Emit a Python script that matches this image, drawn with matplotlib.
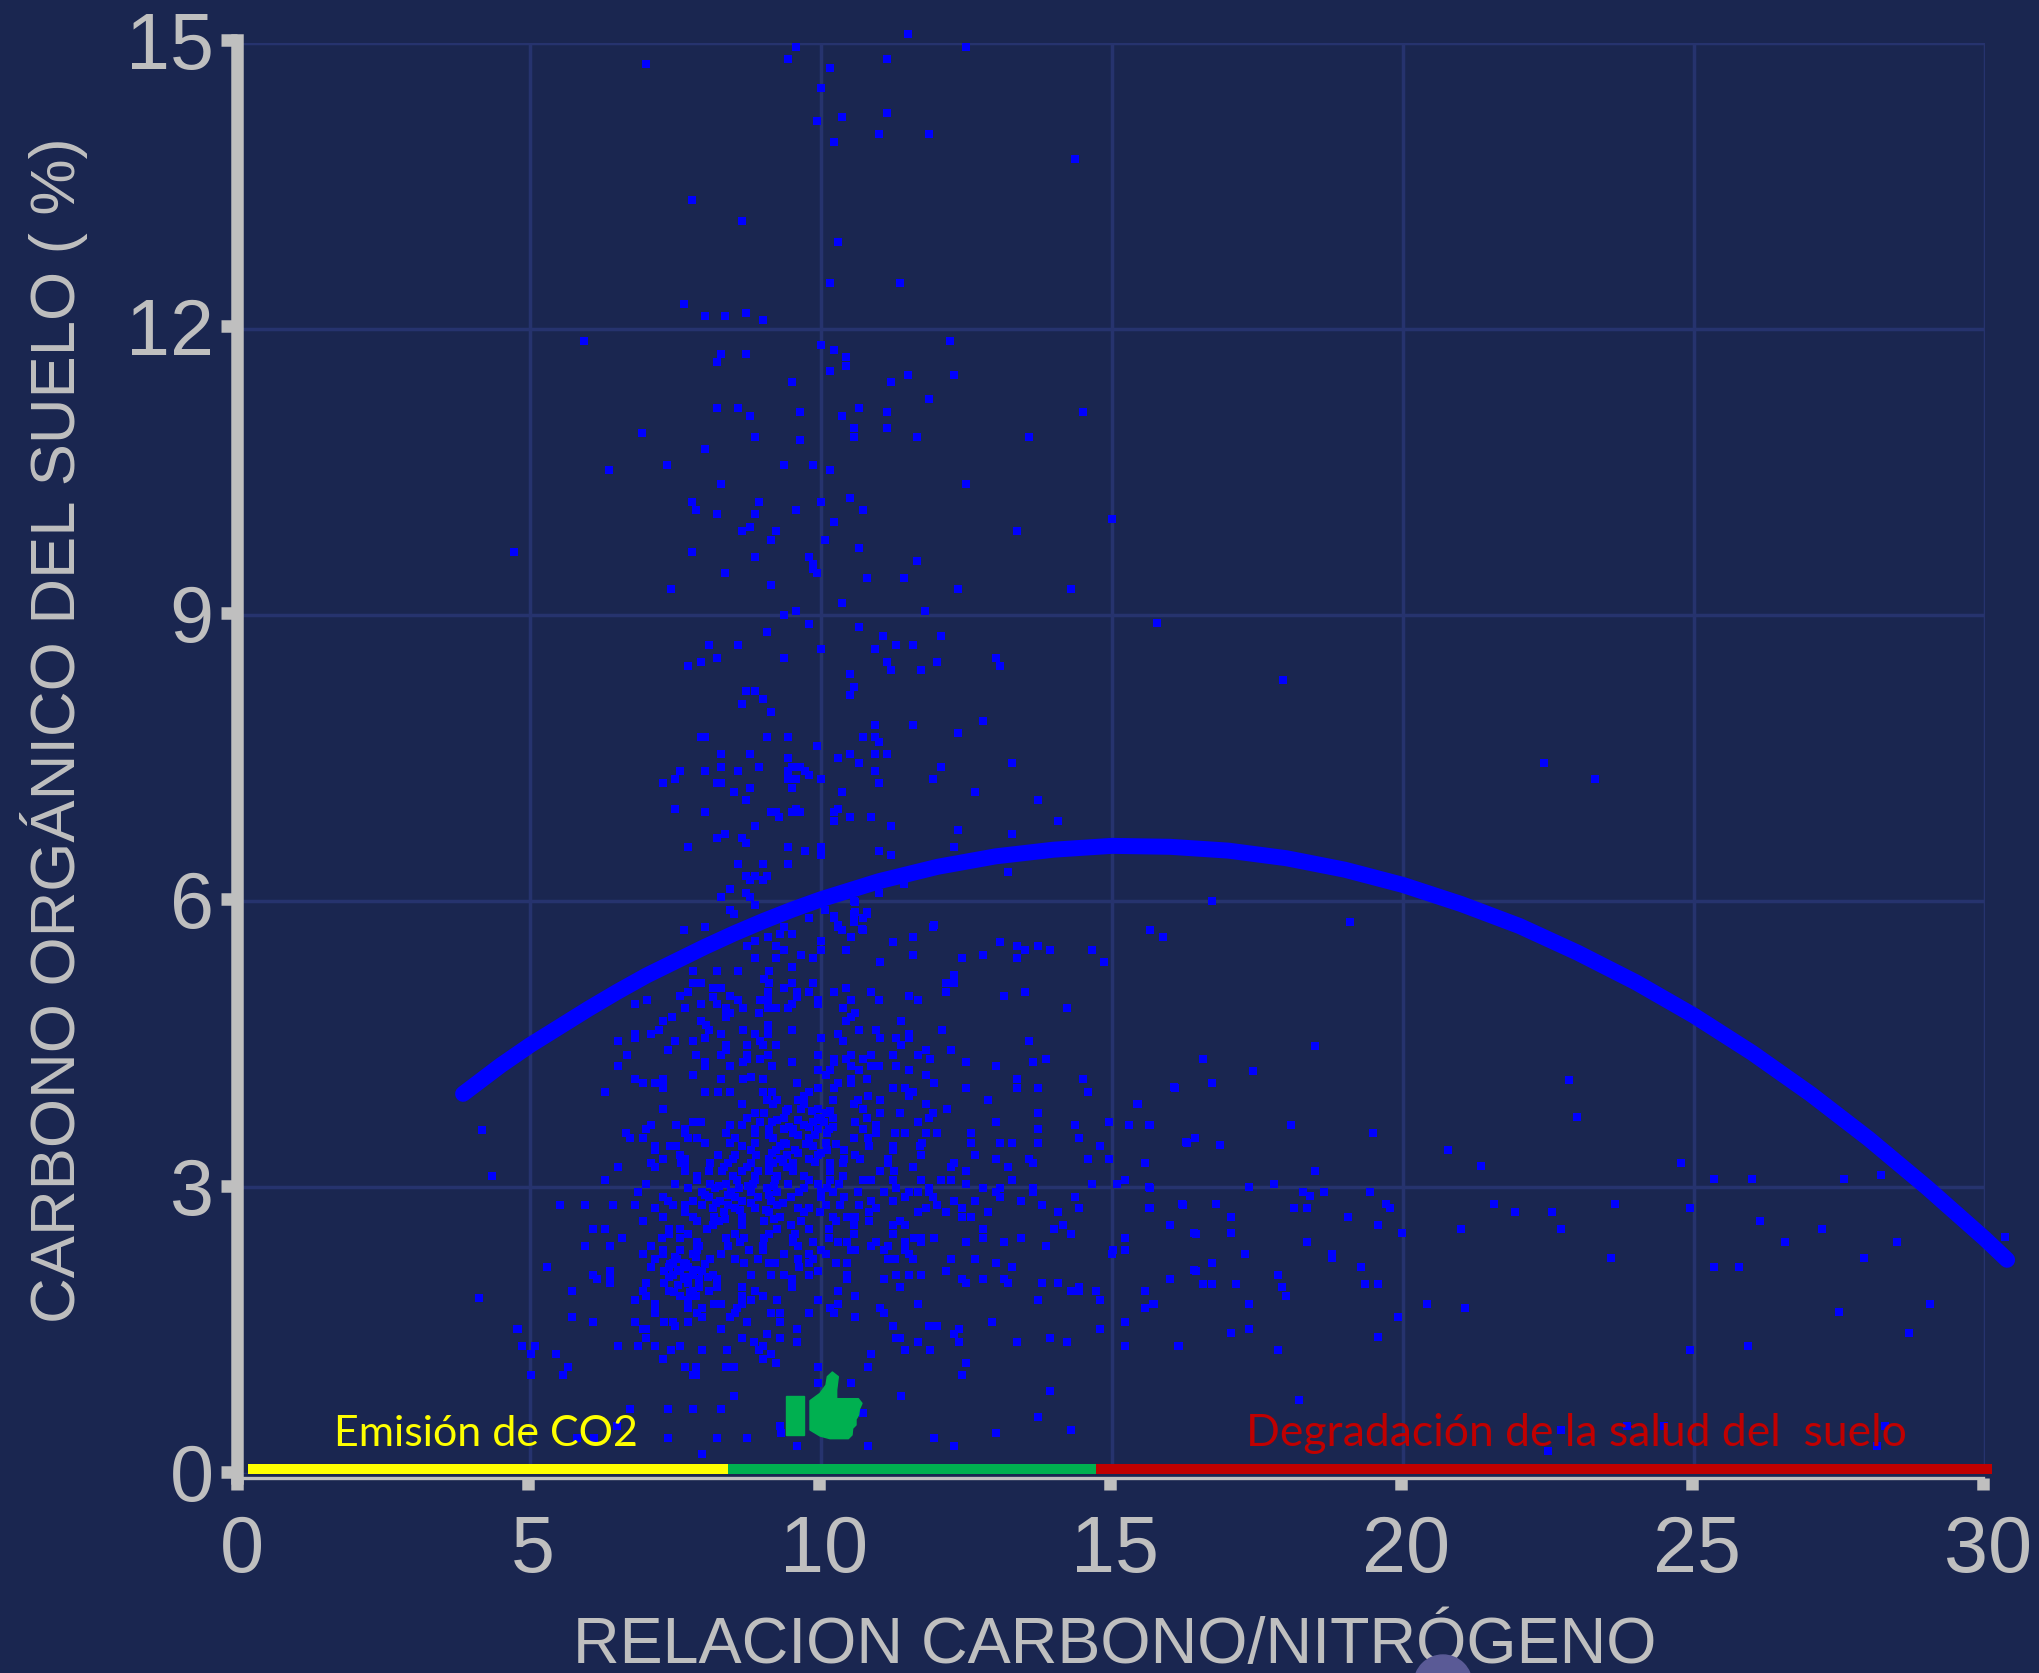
"""
Carbono organico del suelo vs relacion C/N, scatter with fitted curve
"""
import numpy as np
import matplotlib
matplotlib.use("Agg")
import matplotlib.pyplot as plt
from matplotlib.patches import Polygon, Rectangle, Ellipse
from matplotlib.transforms import ScaledTranslation

W, H = 2040, 1673

# -------------------------------
# DATA
# -------------------------------
x_ticks = [0, 5, 10, 15, 20, 25, 30]
y_ticks = [0, 3, 6, 9, 12, 15]

# top of the cloud, (C/N, carbono)
puntos_altos = [
    (11.5,15.09),(9.57,14.96),(12.5,14.96),(9.43,14.83),(7.0,14.78),(11.14,14.83),(10.15,14.74),(10.0,14.52),
    (11.14,14.26),(10.36,14.22),(9.93,14.18),(11.0,14.04),(11.86,14.04),(10.22,13.96),(14.36,13.78),(7.78,13.35),
    (8.64,13.13),(10.29,12.91),(10.15,12.48),(11.36,12.48),(7.64,12.26),(8.0,12.13),(8.35,12.13),(8.71,12.17),
    (9.0,12.09),(5.93,11.87),(10.0,11.83),(10.22,11.78),(12.22,11.87),(8.28,11.74),(8.71,11.74),(8.21,11.65),
    (10.43,11.7),(10.43,11.61),(10.15,11.56),(11.5,11.52),(12.29,11.52),(9.5,11.44),(11.21,11.44),(11.86,11.26),
    (8.21,11.17),(8.57,11.17),(8.78,11.09),(9.64,11.13),(10.65,11.17),(11.14,11.13),(10.36,11.09),(14.5,11.13),
    (10.57,10.96),(11.14,10.96),(6.93,10.91),(8.86,10.87),(10.57,10.87),(11.65,10.87),(13.58,10.87),(9.64,10.83),
    (8.0,10.74),(7.35,10.57),(6.35,10.52),(9.36,10.57),(9.86,10.57),(10.15,10.52),
    (8.28,10.37),(12.5,10.37),(7.78,10.19),(8.93,10.19),(10.0,10.19),(10.5,10.23),(7.86,10.1),(8.21,10.06),
    (8.86,10.06),(9.57,10.1),(10.72,10.1),(10.22,9.97),(15.0,10.01),(8.78,9.92),(8.64,9.88),(9.22,9.88),
    (13.36,9.88),(9.14,9.79),(10.07,9.79),(4.72,9.66),(7.78,9.66),(10.65,9.7),(8.86,9.61),(9.79,9.61),
    (9.86,9.53),(9.86,9.48),(9.93,9.44),(11.65,9.57),(8.35,9.44),(10.79,9.39),(11.43,9.39),(9.14,9.31),
    (7.43,9.27),(12.36,9.27),(14.29,9.27),(10.36,9.13),(9.57,9.04),(9.36,9.0),(11.79,9.04),(15.78,8.92),
    (9.79,8.91),(10.65,8.87),(9.07,8.82),(11.07,8.78),(12.07,8.78),(8.07,8.69),(8.57,8.69),(11.29,8.69),
    (11.58,8.69),(10.0,8.64),(10.93,8.64),(8.21,8.55),(9.36,8.55),(13.0,8.55),(7.93,8.51),(11.14,8.51),
    (12.0,8.51),(7.71,8.47),(13.07,8.47),(11.21,8.42),(11.72,8.42),(10.5,8.38),(17.93,8.32),(10.57,8.25),
    (8.71,8.2),(8.86,8.2),(9.0,8.12),(10.5,8.16),(8.64,8.07),(9.14,7.98),(12.79,7.89),(10.93,7.85),
    (11.58,7.85),(12.36,7.76),(7.93,7.72),(8.0,7.72),(9.07,7.72),(9.43,7.72),(10.72,7.72),(10.93,7.72),
    (11.0,7.67),(9.93,7.63),(8.28,7.54),(8.78,7.54),(10.5,7.54),(10.93,7.54),(11.14,7.54),(9.43,7.5),
    (10.29,7.5),(10.65,7.45),(13.29,7.45),(22.42,7.45),(8.28,7.41),(8.93,7.41),(9.5,7.41),(9.64,7.41),
    (12.07,7.41),(7.57,7.37),(8.0,7.37),(8.57,7.37),(9.43,7.37),(9.72,7.37),(10.93,7.37),(9.79,7.32),
    (7.5,7.28),(9.43,7.28),(9.57,7.28),(10.0,7.28),(11.93,7.28),(23.3,7.28),(7.29,7.24),(8.21,7.24),
    (8.28,7.24),(11.0,7.24),(8.78,7.19),(9.5,7.19),(8.5,7.14),(10.36,7.14),(12.65,7.14),(8.71,7.06),
    (13.72,7.06),(7.5,6.97),(10.29,6.97),(9.57,6.97),(8.0,6.93),(9.14,6.93),(9.22,6.93),(9.5,6.93),
    (9.64,6.93),(10.22,6.93),(9.28,6.88),(10.5,6.88),(10.86,6.88),(10.22,6.84),(14.07,6.84),(8.86,6.79),
    (11.21,6.79),(12.36,6.75),(8.35,6.7),(13.29,6.7),(8.21,6.66),(8.64,6.66),(8.71,6.61),(7.71,6.57),
    (9.43,6.57),(10.0,6.57),(12.29,6.57),(9.72,6.53),(11.0,6.53),(10.0,6.48),(11.21,6.48),(8.57,6.39),
    (9.0,6.39),(9.43,6.39),(8.71,6.26),(8.86,6.26),(9.07,6.26),(8.78,6.22),(9.0,6.22),(13.22,6.31),
    (8.43,6.13),(8.71,6.09),(11.0,6.09),(11.43,6.18),(8.28,6.04),(8.78,6.04),(10.57,6.0),(16.72,6.0),
    (8.86,5.96),(8.43,5.91),(10.07,5.91),(8.5,5.87),(10.57,5.87),(10.79,5.87),(10.22,5.82),(9.79,5.82),
    (10.72,5.82),(10.57,5.78),(19.09,5.78),(10.29,5.73),(11.93,5.73),(7.64,5.7),(8.0,5.73),(9.36,5.73),
    (10.36,5.7),(10.72,5.7),
]

# under the curve, 5.99 down to 4
puntos_medios = [
    (10.58,5.99),(11.94,5.75),(15.66,5.7),(15.87,5.62),(11.23,5.57),(11.58,5.62),(13.08,5.57),(13.37,5.53),
    (13.51,5.49),(13.72,5.53),(13.94,5.49),(14.65,5.49),(13.37,5.4),(14.86,5.36),(12.79,5.44),(12.43,5.4),
    (11.58,5.44),(11.01,5.36),(10.79,5.89),(10.58,5.89),(10.71,5.71),(10.52,5.62),(10.23,5.84),(10.29,5.75),
    (10.36,5.7),(10.0,5.58),(10.0,5.49),(10.43,5.49),(9.65,5.44),(9.23,5.4),(9.87,5.4),(8.86,5.4),
    (9.51,5.31),(9.09,5.62),(9.3,5.66),(9.51,5.66),(9.23,5.53),(9.37,5.49),(8.86,5.58),(8.72,5.53),
    (7.8,5.27),(8.22,5.27),(8.58,5.27),(9.1,5.27),(9.02,5.18),(9.1,5.14),(9.51,5.14),(9.87,5.14),
    (7.8,5.14),(7.93,5.14),(8.15,5.09),(8.29,5.09),(9.37,5.09),(7.72,5.05),(9.09,5.05),(9.58,5.05),
    (9.79,5.05),(10.23,5.05),(10.43,5.09),(10.86,5.05),(7.57,5.01),(8.15,5.0),(8.44,5.01),(9.09,4.96),
    (9.58,5.0),(10.51,4.96),(11.0,4.96),(11.51,5.01),(11.66,4.96),(9.94,4.96),(9.94,4.92),(8.58,4.96),
    (8.95,4.96),(6.8,4.92),(7.01,4.96),(7.94,4.92),(8.22,4.92),(12.15,5.14),(12.29,5.23),(12.29,5.14),
    (12.15,5.05),(13.15,5.01),(13.51,5.05),(14.23,4.88),(8.37,4.88),(7.66,4.88),(8.66,4.88),(9.09,4.88),
    (9.23,4.88),(9.44,4.88),(9.51,4.92),(10.37,4.88),(8.37,4.83),(8.44,4.83),(8.93,4.83),(10.58,4.83),
    (8.37,4.79),(7.44,4.79),(10.52,4.79),(7.29,4.74),(7.93,4.74),(10.43,4.74),(11.37,4.74),(9.09,4.7),
    (8.02,4.7),(7.22,4.65),(8.08,4.65),(8.66,4.65),(9.09,4.65),(9.51,4.65),(10.66,4.65),(10.94,4.65),
    (12.08,4.65),(6.8,4.61),(7.08,4.61),(8.29,4.61),(8.87,4.61),(9.09,4.61),(10.3,4.61),(11.51,4.61),
    (6.8,4.57),(8.01,4.57),(10.0,4.57),(11.01,4.57),(11.29,4.57),(11.51,4.57),(6.51,4.53),(7.5,4.53),
    (7.8,4.53),(8.95,4.53),(10.37,4.53),(11.37,4.49),(13.58,4.53),(8.37,4.49),(8.72,4.49),(9.23,4.49),
    (9.01,4.49),(7.37,4.44),(8.37,4.44),(11.8,4.44),(12.23,4.44),(6.66,4.39),(7.86,4.39),(8.29,4.39),
    (8.72,4.39),(9.09,4.39),(9.94,4.39),(10.51,4.39),(10.86,4.39),(11.23,4.39),(11.66,4.39),(8.72,4.35),
    (8.95,4.35),(10.23,4.35),(10.43,4.35),(10.72,4.35),(11.87,4.35),(13.87,4.35),(8.66,4.31),(8.0,4.31),
    (9.51,4.31),(10.23,4.31),(12.5,4.31),(13.65,4.31),(6.51,4.27),(8.01,4.27),(8.44,4.27),(9.15,4.27),
    (10.51,4.27),(10.86,4.27),(11.0,4.27),(11.29,4.27),(13.0,4.27),(9.94,4.23),(10.15,4.23),(10.66,4.23),
    (11.51,4.23),(7.8,4.18),(10.08,4.18),(11.8,4.18),(6.8,4.14),(7.29,4.14),(8.29,4.14),(8.66,4.14),
    (8.8,4.16),(9.01,4.14),(10.51,4.14),(10.79,4.14),(13.37,4.14),(14.51,4.14),(6.94,4.09),(7.15,4.09),
    (7.29,4.09),(9.58,4.09),(10.3,4.09),(10.51,4.09),(11.94,4.09),(13.37,4.04),(7.29,4.04),(11.23,4.04),
    (11.44,4.04),(9.94,4.04),(12.5,4.04),(13.72,4.04),(16.08,4.04),(6.29,4.0),(8.01,4.0),(8.23,4.0),
    (8.44,4.0),(9.01,4.0),(9.15,4.0),(9.79,4.0),(10.23,4.04),(11.58,4.0),(14.58,4.0),
]

# dense part, one carbono value with the C/N values read along it
filas_densas = [
    (3.96,[9.71,10.8,11.51]),
    (3.92,[9.08,9.6,10.21,10.63,11.02,12.87,9.25]),
    (3.87,[8.65,9.18,9.7,10.56,11.8,15.44]),
    (3.82,[7.29,9.44,9.65,9.94,10.72,12.17]),
    (3.78,[8.87,9.02,10.08,11.01,11.36,11.93,13.72]),
    (3.73,[8.72,9.36,9.94,10.2,10.79,11.86]),
    (3.69,[7.8,7.93,8.95,9.15,9.87,10.06,10.58,11.66,13.0,14.94]),
    (3.65,[7.08,7.51,8.44,8.64,9.71,10.94,14.37,15.29,15.66]),
    (3.61,[7.0,7.66,8.87,9.1,9.37,9.52,9.94,10.14,10.72,13.72]),
    (3.57,[6.65,7.66,8.37,8.87,9.52,10.1,10.94,11.28,11.44,11.8,12.0,12.58]),
    (3.52,[6.72,6.94,7.72,7.87,8.53,9.18,9.79,10.57,10.8,14.44]),
    (3.47,[8.01,8.43,8.87,9.37,10.08,11.73,12.58,13.08,13.29,13.72,16.29]),
    (3.43,[7.15,7.41,7.51,8.65,9.29,9.87,10.83,11.23,11.7,14.8]),
    (3.39,[7.15,8.79,9.23,9.56,10.1,10.39,11.23]),
    (3.34,[7.58,8.23,8.53,8.88,9.41,9.95,10.58,11.72,12.65]),
    (3.3,[7.29,7.66,8.49,9.1,9.29,9.79,10.4,10.67,11.15,13.0,13.58,14.58,14.94]),
    (3.25,[7.08,7.6,8.1,8.41,8.79,9.17,9.52,10.15,10.37,11.15,12.29,13.65,15.57]),
    (3.21,[6.51,7.15,7.66,8.33,8.72,9.1,9.41,11.58,12.23,13.22]),
    (3.17,[7.66,8.07,8.3,8.65,8.91,9.1,9.52,10.15,11.02,11.26,12.5]),
    (3.12,[7.87,8.49,8.87,9.25,9.71,10.37]),
    (3.08,[6.29,7.87,8.56,8.87,9.21,9.79,10.15,10.72,10.86,11.23,11.72,12.07,12.23,13.29,15.23]),
    (3.03,[7.0,7.5,8.1,8.37,8.83,9.44,9.94,10.31,12.5,14.65,15.08]),
    (2.99,[7.72,8.18,8.59,9.08,9.71,10.1,11.29,11.86,12.79,13.08,13.65,15.66]),
    (2.95,[6.86,7.95,8.45,8.79,9.25,9.63,10.0,10.2,10.63,11.09,11.51,11.66,11.86,13.0,13.65]),
    (2.9,[7.29,8.07,8.53,8.91,9.48,10.0,10.39,11.44,11.93,13.08,14.37]),
    (2.86,[7.37,7.8,8.26,8.65,9.14,10.86,11.23,12.29,12.65,13.44]),
    (2.82,[5.51,5.94,6.43,6.8,7.45,7.66,7.95,8.41,9.25,10.08,10.33,10.66,12.0,13.8,16.22]),
    (2.78,[7.15,7.66,8.14,8.53,8.87,9.6,9.79,10.94,11.8,12.43,14.43,15.66]),
    (2.74,[7.66,8.33,9.1,9.71,9.98,10.83,11.66,12.15,12.87,14.08]),
    (2.69,[7.29,7.8,8.16,8.65,9.29,10.21,10.44,10.58,12.43,12.58]),
    (2.65,[6.94,7.87,8.25,9.02,9.65,10.25,10.83,11.36]),
    (2.6,[8.14,8.65,9.48,10.56,11.23,11.44,14.16,16.0]),
    (2.56,[6.09,6.29,7.38,7.57,8.04,9.25,9.79,10.14,12.79,14.0]),
    (2.51,[7.38,7.72,8.53,9.1,9.56,10.56,11.23,14.3,16.44]),
    (2.47,[6.58,7.26,7.57,8.37,8.68,9.02,9.52,10.14,11.59,11.72,11.94,12.79,13.44,15.23]),
    (2.43,[7.87,8.6,9.52,9.87,10.29,10.44,10.94,11.44,11.72,12.5,13.15]),
    (2.39,[5.94,6.37,7.08,7.9,8.41,9.01,9.6,10.86,11.15,13.87]),
    (2.34,[7.29,7.57,7.87,8.76,9.01,10.0,10.51,10.59,11.09,11.44,15.01,15.23]),
    (2.3,[6.94,7.29,7.8,8.29,9.37,9.79,10.08,11.51,15.0]),
    (2.25,[7.15,7.53,8.1,8.53,8.91,9.6,9.87,11.15,11.28,11.58,12.23,12.65]),
    (2.21,[7.45,7.64,8.68,9.1,9.21,9.79,10.25,10.44,13.0]),
    (2.17,[5.29,7.08,7.38,7.72,9.63,13.29]),
    (2.12,[6.37,7.3,7.57,7.95,9.94,12.15,16.44]),
    (2.08,[6.09,7.45,7.8,8.14,8.79,9.14,9.37,9.79,10.44,11.29,11.51,11.72]),
    (2.04,[6.15,6.37,7.64,7.9,8.22,9.51,10.44,11.08,12.43,12.79,13.15,16.0]),
    (2.0,[6.37,7.0,7.3,7.72,12.5,13.22,13.8,14.08]),
    (1.95,[7.9,8.22,8.65,9.51,11.36,14.43]),
    (1.91,[5.72,6.94,7.38,7.8,8.07,8.87,10.29,14.3,14.44,14.72,15.57]),
    (1.86,[7.0,7.57,7.85,8.64,9.0,10.58]),
    (1.82,[6.8,7.72,8.79,9.25,9.94,13.72,14.8]),
    (1.78,[7.15,8.16,8.29,8.64,10.29,11.66,15.73]),
    (1.73,[7.15,7.71,7.95,8.56,10.16,11.01,15.57]),
    (1.68,[7.15,7.87,8.53,9.14,9.29,9.79,10.23,11.08]),
    (1.64,[5.72,7.95,8.43,10.58]),
    (1.59,[6.09,6.8,7.3,7.45,7.72,8.72,9.29,12.94,15.23]),
    (1.55,[7.5,11.23,11.86,12.0]),
    (1.51,[4.79,6.94,7.0,8.29,9.58,12.37,14.8]),
    (1.46,[9.08,12.29]),
    (1.42,[7.0,8.65,9.29,11.29,11.36,13.94]),
    (1.38,[8.85,9.58,11.66,12.37,13.37,14.23]),
    (1.34,[4.86,5.08,6.51,6.86,7.15,7.58,9.01,15.23,16.15]),
    (1.29,[7.43,7.95,8.38,8.93,11.44,11.87]),
    (1.25,[5.01,5.44,9.14,10.86]),
    (1.2,[7.29,9.01]),
    (1.16,[9.23,12.5]),
    (1.12,[5.65,7.66,7.86,8.37,8.5,9.94,10.8]),
    (1.03,[5.01,5.57,7.8,7.86,12.43]),
    (0.95,[9.94,10.51]),
    (0.86,[13.94]),
    (0.81,[8.5,11.37]),
    (0.68,[6.72,7.37,7.8,8.29]),
    (0.63,[10.72]),
    (0.59,[13.72]),
    (0.5,[6.5,9.3]),
    (0.46,[14.29]),
    (0.42,[9.31,13.0]),
    (0.37,[5.8,6.1,7.37,8.22,8.72,11.94]),
    (0.29,[9.58,10.8,12.29]),
    (0.2,[7.95]),
]

# the three knots of the cloud where marks overlap, estimated
filas_nucleo = [
    (2.27,[7.5,7.85]),
    (2.2,[7.4,7.68,8.0]),
    (2.13,[7.55,7.85]),
    (2.06,[7.38,7.7,8.05]),
    (1.98,[7.55,7.9]),
    (1.9,[7.48,7.75]),
    (3.8,[9.4,9.85,10.15]),
    (3.71,[9.25,9.6,10.0]),
    (3.63,[9.45,9.8,10.2]),
    (3.55,[9.1,9.6,9.9]),
    (3.45,[9.4,9.75,10.25]),
    (3.36,[9.15,9.6,10.0]),
    (3.27,[9.35,9.9]),
    (3.01,[8.25,8.75,9.2]),
    (2.92,[8.0,8.4,9.1]),
    (2.84,[8.2,8.8,9.35]),
    (2.76,[8.6,9.05]),
    (2.67,[8.35,9.2]),
]

# sparse tail on the right and far left
puntos_cola = [
    (18.49,4.48),(16.56,4.35),(17.43,4.22),(16.07,4.05),(16.71,4.09),(15.43,3.87),(15.3,3.65),(15.64,3.65),
    (18.07,3.65),(19.49,3.57),(16.42,3.52),(16.28,3.48),(16.85,3.44),(15.57,3.26),(18.49,3.17),(15.64,3.0),
    (17.35,3.0),(17.78,3.04),(18.28,2.95),(18.41,2.91),(18.64,2.95),(19.43,2.95),(15.64,2.78),(16.21,2.83),
    (16.78,2.83),(18.13,2.78),(18.35,2.78),(19.71,2.83),(19.78,2.78),(17.05,2.69),(19.06,2.69),(15.99,2.6),
    (19.57,2.6),(16.41,2.52),(17.05,2.52),(19.99,2.52),(18.35,2.43),(17.28,2.3),(18.78,2.3),(18.78,2.26),
    (16.71,2.21),(19.28,2.17),(16.41,2.13),(15.99,2.04),(16.56,1.99),(16.71,1.99),(17.13,1.99),(17.86,2.08),
    (17.92,1.95),(17.99,1.86),(19.35,1.99),(19.57,1.99),(15.57,1.91),(15.71,1.78),(15.57,1.73),(17.35,1.78),
    (19.92,1.64),(17.35,1.51),(17.05,1.47),(16.14,1.34),(19.57,1.43),(17.86,1.29),(18.21,0.77),
    (22.85,4.13),(22.99,3.74),(20.78,3.39),(21.34,3.22),(24.78,3.26),(25.34,3.09),(25.99,3.09),(27.57,3.09),
    (28.21,3.13),(21.57,2.83),(21.92,2.74),(22.56,2.74),(23.64,2.83),(24.93,2.78),(20.99,2.56),(22.71,2.56),
    (26.14,2.65),(27.2,2.56),(26.56,2.43),(28.49,2.43),(30.34,2.48),(23.58,2.26),(25.34,2.17),(25.77,2.17),
    (27.92,2.26),(20.42,1.78),(21.06,1.73),(29.05,1.78),(27.49,1.69),(28.7,1.47),(24.93,1.29),(25.92,1.34),
    (22.71,0.46),(22.49,0.24),(23.85,0.5),(24.49,0.5),(28.28,0.5),(28.14,0.29),
    (4.17,3.6),(4.35,3.12),(4.13,1.84),(4.78,1.51),
]

# fitted curve
curva_x = [3.85,4.5,5,5.5,6,6.5,7,7.5,8,8.5,9,9.5,10,11,12,13,14,15,16,17,18,19,20,21,22,23,24,25,26,27,28,29,30,30.38]
curva_y = [3.98,4.28,4.49,4.68,4.87,5.05,5.22,5.37,5.52,5.66,5.79,5.91,6.02,6.21,6.36,6.47,6.54,6.58,6.57,6.53,
           6.45,6.33,6.17,5.97,5.74,5.46,5.15,4.8,4.41,3.98,3.51,3.0,2.46,2.24]

# ranges drawn along the x axis
franja_inicio = [0.19, 8.45, 14.77]
franja_fin = [8.45, 14.77, 30.17]
franja_color = ["#FFFF00", "#00B050", "#C00000"]

GRIS = "#BFBFBF"
FONDO = "#1A2650"
REJILLA = "#26336E"
AZUL = "#0000FF"


def caja(left, top, right, bottom):
    # pixel box (y down) to figure fractions
    return [left / W, 1 - bottom / H, (right - left) / W, (bottom - top) / H]


def px(x, y):
    return x / W, 1 - y / H


# -------------------------------
# FIGURE
# -------------------------------
plt.rcParams["font.family"] = ["Liberation Sans", "DejaVu Sans"]
fig = plt.figure(figsize=(W / 100, H / 100), dpi=100, facecolor=FONDO)

ax = fig.add_axes(caja(239, 42.7, 1985, 1473.5))
ax.set_xlim(0, 30)
ax.set_ylim(0, 15)
ax.patch.set_alpha(0)
ax.set_xticks(x_ticks)
ax.set_yticks(y_ticks)
ax.tick_params(length=0, labelbottom=False, labelleft=False)
ax.grid(True, color=REJILLA, lw=2.5)
ax.set_axisbelow(True)
for s in ax.spines.values():
    s.set_visible(False)

# -------------------------------
# POINTS + CURVE
# -------------------------------
puntos = puntos_altos + puntos_medios + puntos_cola
for y_fila, xs_fila in filas_densas + filas_nucleo:
    puntos += [(x_f, y_fila) for x_f in xs_fila]
puntos = np.array(puntos)

ax.scatter(puntos[:, 0], puntos[:, 1], s=35, marker="s", color=AZUL, linewidths=0, clip_on=False, zorder=3)
ax.plot(curva_x, curva_y, color=AZUL, lw=11.5, solid_capstyle="round", solid_joinstyle="round", clip_on=False, zorder=4)

# -------------------------------
# FRAME (sits slightly left of the grid in the original)
# -------------------------------
frame = fig.add_axes(caja(236.6, 40, 1982.6, 1472))
frame.set_xlim(0, 30)
frame.set_ylim(0, 15)
frame.patch.set_alpha(0)
frame.set_xticks(x_ticks)
frame.set_yticks(y_ticks)
frame.tick_params(axis="x", length=8.5, width=9, color=GRIS, labelcolor=GRIS, labelsize=57, pad=18)
frame.tick_params(axis="y", length=11.5, width=9, color=GRIS, labelcolor=GRIS, labelsize=57, pad=5)
frame.spines["top"].set_visible(False)
frame.spines["right"].set_visible(False)
frame.spines["left"].set_linewidth(9)
frame.spines["left"].set_color(GRIS)
frame.spines["left"].set_bounds(-0.06, 15)
frame.spines["bottom"].set_linewidth(2.4)
frame.spines["bottom"].set_color(GRIS)
frame.spines["bottom"].set_position(("outward", 4))
desplazar = ScaledTranslation(5 / 100, 0, fig.dpi_scale_trans)
for lab in frame.get_xticklabels():
    lab.set_transform(lab.get_transform() + desplazar)

# -------------------------------
# COLOUR RANGES + NOTES
# -------------------------------
for ini, fin, col in zip(franja_inicio, franja_fin, franja_color):
    frame.plot([ini, fin], [0.03, 0.03], color=col, lw=7.2, solid_capstyle="butt", clip_on=False, zorder=5)

fig.text(*px(334, 1446), "Emisión de CO2", color="#FFFF00", fontsize=31, family=["Lato", "DejaVu Sans"], va="baseline", zorder=6)
fig.text(*px(1246, 1446), "Degradación de la salud del  suelo", color="#C00000", fontsize=32,
         family=["Lato", "DejaVu Sans"], va="baseline", zorder=6)

fig.text(*px(1115, 1663), "RELACION CARBONO/NITRÓGENO", color=GRIS, fontsize=46.5, ha="center", va="baseline")
fig.text(*px(54, 730), "CARBONO ORGÁNICO DEL SUELO ( %)", color=GRIS, fontsize=45.5, rotation=90, ha="center", va="center")

# -------------------------------
# THUMB ICON + STRAY SHAPE AT THE BOTTOM
# -------------------------------
fig.add_artist(Rectangle(px(786, 1435), 18 / W, 39.5 / H, transform=fig.transFigure, color="#00B050", zorder=7))
mano = [(120,122),(150,100),(168,75),(172,50),(187,36),(205,50),(200,90),(200,116),(265,116),(276,130),(268,148),
        (266,165),(258,178),(258,195),(248,205),(246,225),(235,236),(180,236),(150,228),(120,210)]
mano = [px(770 + a / 3, 1360 + b / 3) for a, b in mano]
fig.add_artist(Polygon(mano, closed=True, transform=fig.transFigure, facecolor="#00B050", edgecolor="#00B050",
                       lw=1, joinstyle="round", zorder=7))
fig.add_artist(Ellipse(px(1443, 1684), 58 / W, 58 / H, transform=fig.transFigure, color="#5A5A96", zorder=7))

fig.savefig("out.png", dpi=100, facecolor=FONDO)
